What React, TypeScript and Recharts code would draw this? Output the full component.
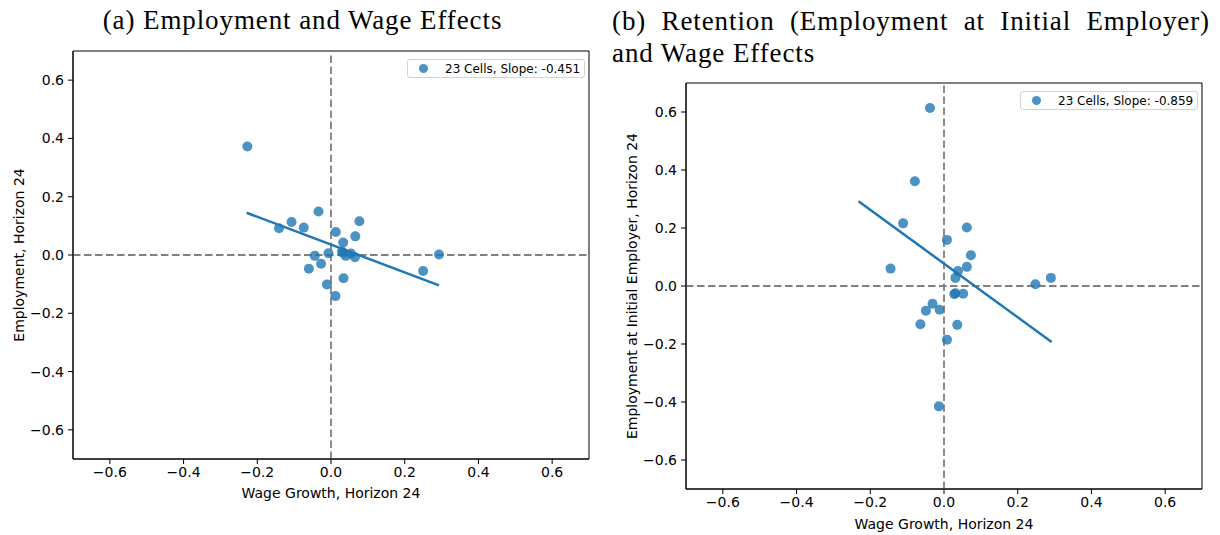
import React from "react";
import {
  ScatterChart,
  Scatter,
  XAxis,
  YAxis,
  ReferenceLine,
  ReferenceArea,
  Legend,
} from "recharts";

const TICKS = [-0.6, -0.4, -0.2, 0, 0.2, 0.4, 0.6];
const DOMAIN: [number, number] = [-0.7, 0.7];

// panel (a): wage growth vs employment, 23 cells
const wageA = [
  -0.227, -0.141, -0.107, -0.074, -0.06, -0.044, -0.034, -0.027, -0.011, -0.007,
  0.012, 0.013, 0.03, 0.032, 0.033, 0.034, 0.04, 0.054, 0.065, 0.066, 0.077, 0.25,
  0.293,
];
const empA = [
  0.372, 0.092, 0.113, 0.094, -0.047, -0.003, 0.149, -0.03, -0.101, 0.006, -0.141,
  0.079, 0.012, 0.008, 0.043, -0.08, -0.003, 0.005, -0.008, 0.064, 0.116, -0.055,
  0.002,
];
const fitA = [
  { x: -0.229, y: 0.145 },
  { x: 0.293, y: -0.104 },
];

// panel (b): wage growth vs retention at initial employer
const wageB = [
  -0.145, -0.111, -0.079, -0.064, -0.049, -0.038, -0.031, -0.014, -0.012, 0.008,
  0.008, 0.028, 0.031, 0.031, 0.036, 0.038, 0.052, 0.062, 0.062, 0.073, 0.248,
  0.29,
];
const retB = [
  0.06, 0.216, 0.361, -0.132, -0.085, 0.614, -0.061, -0.415, -0.082, 0.159, -0.185,
  -0.028, -0.025, 0.028, -0.134, 0.052, -0.027, 0.202, 0.066, 0.106, 0.006, 0.028,
];
const fitB = [
  { x: -0.232, y: 0.292 },
  { x: 0.292, y: -0.193 },
];

const BLUE = "#1f77b4";
const SANS = '"DejaVu Sans", sans-serif';
const SERIF = '"Liberation Serif", serif';

const fmt = (v: number) => (v < 0 ? "\u2212" + Math.abs(v).toFixed(1) : v.toFixed(1));

const Dot = (props: any) => (
  <circle cx={props.cx} cy={props.cy} r={5} fill={BLUE} fillOpacity={0.8} />
);
const NoDot = () => <g />;

const LegendBox = ({ label }: { label: string }) => (
  <div
    style={{
      display: "flex",
      alignItems: "center",
      width: 178,
      height: 19,
      boxSizing: "border-box",
      border: "1px solid #d3d3d3",
      borderRadius: 3,
      background: "rgba(255,255,255,0.8)",
      fontFamily: SANS,
      fontSize: 12,
      color: "#000",
    }}
  >
    <svg width={37} height={17} style={{ flex: "none" }}>
      <circle cx={15.5} cy={8.5} r={4.5} fill={BLUE} fillOpacity={0.8} />
    </svg>
    <span style={{ whiteSpace: "nowrap" }}>{label}</span>
  </div>
);

function Panel({
  xs,
  ys,
  fit,
  legend,
  height,
  top,
}: {
  xs: number[];
  ys: number[];
  fit: { x: number; y: number }[];
  legend: string;
  height: number;
  top: number;
}) {
  const pts = xs.map((x, i) => ({ x, y: ys[i] }));
  const tick = { fontSize: 14, fill: "#000", fontFamily: SANS };
  return (
    <ScatterChart
      width={600}
      height={height}
      margin={{ top, right: 11, bottom: 11, left: 13 }}
    >
      <XAxis
        type="number"
        dataKey="x"
        domain={DOMAIN}
        ticks={TICKS}
        tickFormatter={fmt}
        tick={tick}
        tickSize={5}
        tickMargin={3}
        height={30}
        axisLine={{ stroke: "#000" }}
        tickLine={{ stroke: "#000" }}
      />
      <YAxis
        type="number"
        dataKey="y"
        domain={DOMAIN}
        ticks={TICKS}
        tickFormatter={fmt}
        tick={tick}
        tickSize={5}
        tickMargin={4}
        width={60}
        axisLine={{ stroke: "#000" }}
        tickLine={{ stroke: "#000" }}
      />
      <ReferenceArea
        x1={-0.7}
        x2={0.7}
        y1={-0.7}
        y2={0.7}
        fill="none"
        fillOpacity={0}
        stroke="#000"
        strokeWidth={1}
      />
      <ReferenceLine x={0} stroke="#808080" strokeWidth={1.8} strokeDasharray="7.5 3.5" />
      <ReferenceLine y={0} stroke="#808080" strokeWidth={1.8} strokeDasharray="7.5 3.5" />
      <Scatter data={pts} shape={<Dot />} isAnimationActive={false} />
      <Scatter
        data={fit}
        shape={<NoDot />}
        line={{ stroke: BLUE, strokeWidth: 2.5 }}
        isAnimationActive={false}
      />
      <Legend
        layout="vertical"
        align="center"
        verticalAlign="middle"
        wrapperStyle={{ left: 407, top: top + 8, width: 178, height: 19 }}
        content={() => <LegendBox label={legend} />}
      />
    </ScatterChart>
  );
}

const axisTitle: React.CSSProperties = {
  position: "absolute",
  fontFamily: SANS,
  fontSize: 14,
  lineHeight: "18px",
  height: 18,
  textAlign: "center",
  whiteSpace: "nowrap",
  color: "#000",
};

export default function App() {
  return (
    <div
      style={{
        position: "absolute",
        left: 0,
        top: 0,
        width: 1220,
        height: 535,
        background: "#fff",
        overflow: "hidden",
      }}
    >
      <div
        style={{
          position: "absolute",
          left: 0,
          top: 5,
          width: 605,
          textAlign: "center",
          fontFamily: SERIF,
          fontSize: 27,
          letterSpacing: 0.9,
          lineHeight: "30px",
          whiteSpace: "nowrap",
        }}
      >
        (a) Employment and Wage Effects
      </div>
      <div
        style={{
          position: "absolute",
          left: 612,
          top: 5,
          width: 598,
          fontFamily: SERIF,
          fontSize: 27,
          letterSpacing: 0.9,
          lineHeight: "32px",
        }}
      >
        <div style={{ textAlign: "justify", textAlignLast: "justify" }}>
          (b) Retention (Employment at Initial Employer)
        </div>
        <div>and Wage Effects</div>
      </div>

      <div style={{ position: "absolute", left: 0, top: 0 }}>
        <Panel xs={wageA} ys={empA} fit={fitA} legend="23 Cells, Slope: -0.451" height={500} top={51} />
      </div>
      <div style={{ position: "absolute", left: 613, top: 0 }}>
        <Panel xs={wageB} ys={retB} fit={fitB} legend="23 Cells, Slope: -0.859" height={530} top={83} />
      </div>

      <div style={{ ...axisTitle, left: 181, top: 484, width: 300 }}>Wage Growth, Horizon 24</div>
      <div style={{ ...axisTitle, left: 794, top: 515, width: 300 }}>Wage Growth, Horizon 24</div>
      <div
        style={{
          ...axisTitle,
          left: 19 - 150,
          top: 255 - 9,
          width: 300,
          transform: "rotate(-90deg)",
        }}
      >
        Employment, Horizon 24
      </div>
      <div
        style={{
          ...axisTitle,
          left: 632 - 200,
          top: 286 - 9,
          width: 400,
          transform: "rotate(-90deg)",
        }}
      >
        Employment at Initial Employer, Horizon 24
      </div>
    </div>
  );
}
